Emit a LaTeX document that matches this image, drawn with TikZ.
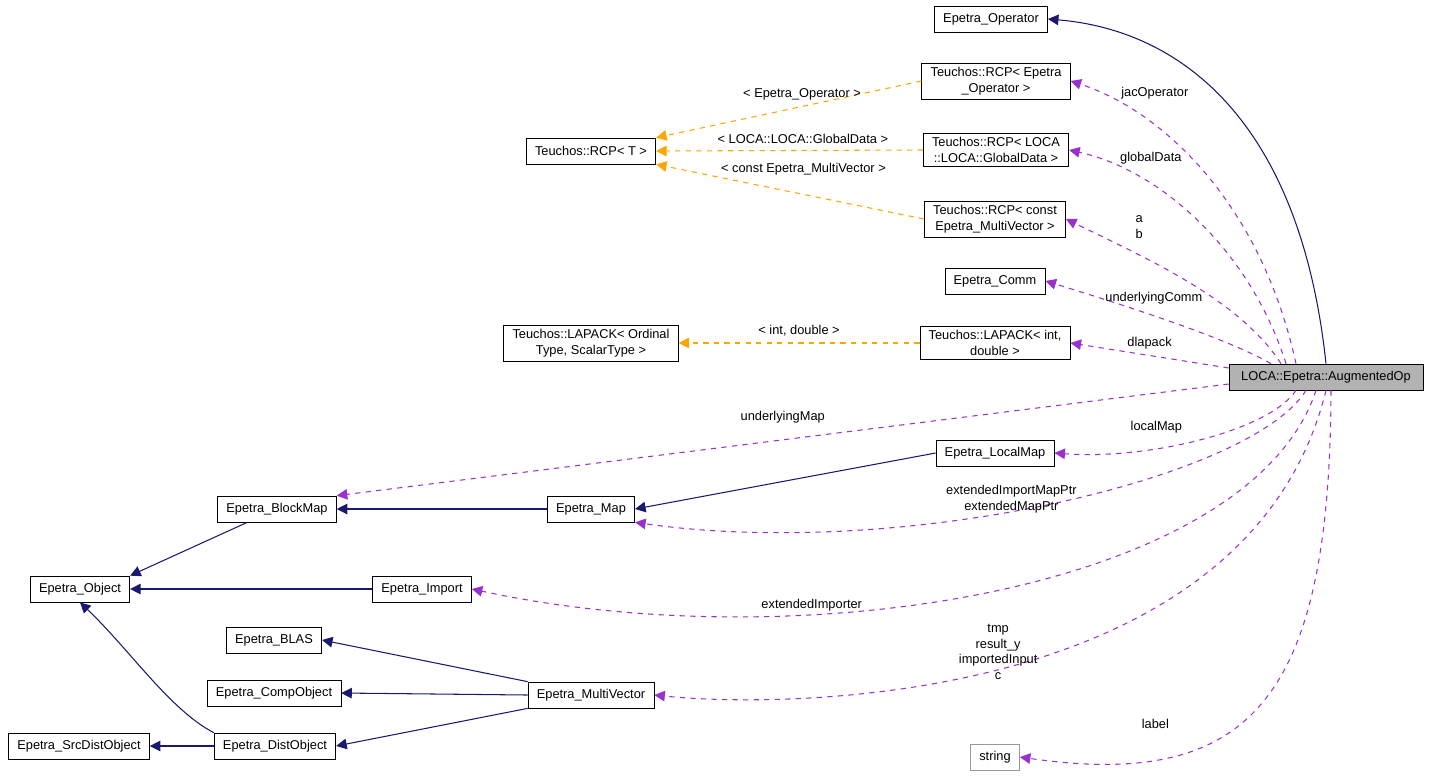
\documentclass[tikz,border=0pt]{standalone}
\usepackage{fontspec}
\setmainfont{Liberation Sans}
\usetikzlibrary{arrows.meta}
\definecolor{inh}{RGB}{25,25,112}
\definecolor{tmpl}{RGB}{255,165,0}
\definecolor{usg}{RGB}{153,50,204}
\tikzset{
  cls/.style={draw, fill=white, inner xsep=5pt, inner ysep=2.5pt, align=center, font=\fontsize{7.3}{8.8}\selectfont, minimum height=0.52cm},
  lbl/.style={font=\fontsize{7.3}{8.8}\selectfont, align=center},
  isa/.style={draw=inh, semithick, -{Triangle[length=6pt,width=6pt,fill=inh]}},
  tpl/.style={draw=tmpl, semithick, dashed, -{Triangle[length=6pt,width=6pt,fill=tmpl]}},
  uses/.style={draw=usg, semithick, dashed, -{Triangle[length=6pt,width=6pt,fill=usg]}}
}
\begin{document}
\begin{tikzpicture}[x=0.02cm, y=-0.02cm]
  \useasboundingbox (0,0) rectangle (1429,779);

  % classes
  \node[cls] (op) at (991,19) {Epetra\_Operator};
  \node[cls] (rcpop) at (996,81) {Teuchos::RCP< Epetra\\\_Operator >};
  \node[cls] (rcpT) at (591,151) {Teuchos::RCP< T >};
  \node[cls] (rcploca) at (996,150) {Teuchos::RCP< LOCA\\::LOCA::GlobalData >};
  \node[cls] (rcpconst) at (995,219) {Teuchos::RCP< const\\Epetra\_MultiVector >};
  \node[cls] (comm) at (995,281) {Epetra\_Comm};
  \node[cls] (lapord) at (591,343) {Teuchos::LAPACK< Ordinal\\Type, ScalarType >};
  \node[cls] (lapint) at (995,343) {Teuchos::LAPACK< int,\\double >};
  \node[cls, fill=black!30, minimum width=3.88cm] (aug) at (1326,377) {LOCA::Epetra::AugmentedOp};
  \node[cls] (localmap) at (995,453) {Epetra\_LocalMap};
  \node[cls] (blockmap) at (277,509) {Epetra\_BlockMap};
  \node[cls] (map) at (591,509) {Epetra\_Map};
  \node[cls] (object) at (80,589) {Epetra\_Object};
  \node[cls] (import) at (422,589) {Epetra\_Import};
  \node[cls] (blas) at (274,640) {Epetra\_BLAS};
  \node[cls] (comp) at (274,693) {Epetra\_CompObject};
  \node[cls] (mv) at (591,695) {Epetra\_MultiVector};
  \node[cls] (src) at (79,746) {Epetra\_SrcDistObject};
  \node[cls] (dist) at (275,746) {Epetra\_DistObject};
  \node[cls, draw=black!40] (str) at (995,757) {string};

  % inheritance
  \draw[isa] (aug.north) .. controls (1300,120) and (1180,30) .. (op.east);
  \draw[isa] (localmap.west) -- (map.east);
  \draw[isa] (map.west) -- (blockmap.east);
  \draw[isa] (blockmap.south west) ++(30,0) -- (object.north east);
  \draw[isa] (import.west) -- (object.east);
  \draw[isa] (dist.north west) .. controls (170,710) and (130,650) .. (object.south);
  \draw[isa] (mv.north west) -- (blas.east);
  \draw[isa] (mv.west) -- (comp.east);
  \draw[isa] (mv.south west) -- (dist.east);
  \draw[isa] (dist.west) -- (src.east);

  % templates
  \draw[tpl] (rcpop.west) -- node[lbl, above, pos=0.45] {< Epetra\_Operator >} (rcpT.north east);
  \draw[tpl] (rcploca.west) -- node[lbl, above, pos=0.45] {< LOCA::LOCA::GlobalData >} (rcpT.east);
  \draw[tpl] (rcpconst.west) -- node[lbl, above, pos=0.45, yshift=0.25cm] {< const Epetra\_MultiVector >} (rcpT.south east);
  \draw[tpl] (lapint.west) -- node[lbl, above] {< int, double >} (lapord.east);

  % members
  \draw[uses] (aug.north) ++(-30,0) .. controls (1260,200) and (1160,110) .. node[lbl, pos=0.8, above right, xshift=-0.2cm] {jacOperator} (rcpop.east);
  \draw[uses] (aug.north) ++(-40,0) .. controls (1250,250) and (1160,170) .. node[lbl, pos=0.75, above right, xshift=-0.45cm, yshift=0.1cm] {globalData} (rcploca.east);
  \draw[uses] (aug.north) ++(-45,0) .. controls (1240,300) and (1150,260) .. node[lbl, pos=0.75, above right, yshift=0.1cm] {a\\b} (rcpconst.east);
  \draw[uses] (aug.north) ++(-55,0) .. controls (1230,340) and (1140,310) .. node[lbl, pos=0.6, above, yshift=0.1cm] {underlyingComm} (comm.east);
  \draw[uses] (aug.west) ++(0,-9) -- node[lbl, above, pos=0.5] {dlapack} (lapint.east);
  \draw[uses] (aug.west) ++(0,7) -- node[lbl, above=6pt, pos=0.5] {underlyingMap} (blockmap.north east);
  \draw[uses] (aug.south) ++(-30,0) .. controls (1270,430) and (1150,460) .. node[lbl, pos=0.5, above, xshift=-0.9cm] {localMap} (localmap.east);
  \draw[uses] (aug.south) ++(-20,0) .. controls (1250,480) and (900,560) .. node[lbl, pos=0.5, above, xshift=-0.75cm, yshift=-0.3cm] {extendedImportMapPtr\\extendedMapPtr} (map.south east);
  \draw[uses] (aug.south) ++(-10,0) .. controls (1250,590) and (800,660) .. node[lbl, pos=0.6, above, xshift=-1.6cm, yshift=-0.2cm] {extendedImporter} (import.east);
  \draw[uses] (aug.south) .. controls (1250,700) and (800,710) .. node[lbl, pos=0.4, above left, xshift=-1.1cm, yshift=-1cm] {tmp\\result\_y\\importedInput\\c} (mv.east);
  \draw[uses] (aug.south) ++(5,0) .. controls (1330,700) and (1250,790) .. node[lbl, pos=0.75, above, xshift=-0.2cm, yshift=0.45cm] {label} (str.east);
\end{tikzpicture}
\end{document}
